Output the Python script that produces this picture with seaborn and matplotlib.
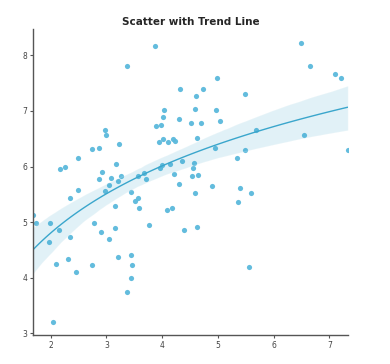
import matplotlib
matplotlib.use("Agg")
import matplotlib.pyplot as plt
import seaborn as sns
import pandas as pd

# values
x_vals = [1.68, 1.73, 1.98, 1.97, 2.15, 2.05, 2.10, 2.17, 2.26, 2.34,
          2.34, 2.32, 2.46, 2.50, 2.50, 2.74, 2.74, 2.78, 2.87, 2.86,
          2.90, 2.93, 2.98, 2.99, 2.98, 3.05, 3.04, 3.08, 3.15, 3.16,
          3.18, 3.20, 3.21, 3.23, 3.27, 3.37, 3.37, 3.44, 3.45, 3.46,
          3.44, 3.52, 3.57, 3.56, 3.59, 3.68, 3.71, 3.77, 3.87, 3.89,
          3.98, 3.95, 4.02, 4.03, 4.02, 3.96, 3.99, 4.11, 4.09, 4.17,
          4.15, 4.19, 4.23, 4.22, 4.30, 4.33, 4.31, 4.35, 4.40, 4.51,
          4.53, 4.56, 4.57, 4.59, 4.59, 4.60, 4.62, 4.65, 4.63, 4.69,
          4.74, 4.90, 4.96, 4.95, 4.99, 5.04, 5.35, 5.39, 5.37, 5.48,
          5.49, 5.56, 5.60, 5.68, 6.49, 6.54, 6.66, 7.11, 7.21, 7.33]
y_vals = [5.12, 4.99, 4.98, 4.65, 4.86, 3.21, 4.24, 5.95, 5.99, 5.44,
          4.74, 4.34, 4.10, 5.58, 6.16, 6.31, 4.22, 4.99, 6.33, 5.78,
          4.83, 5.90, 6.65, 6.57, 5.56, 5.67, 4.69, 5.79, 5.29, 4.89,
          6.05, 5.74, 4.37, 6.41, 5.83, 7.80, 3.75, 5.55, 4.41, 4.23,
          4.00, 5.38, 5.44, 5.83, 5.26, 5.88, 5.77, 4.94, 8.16, 6.73,
          6.75, 6.44, 6.90, 7.02, 6.50, 5.98, 6.02, 6.44, 5.21, 5.25,
          6.05, 6.49, 6.46, 5.87, 6.86, 7.39, 5.68, 6.10, 4.86, 6.78,
          5.83, 5.98, 6.07, 5.53, 7.04, 7.26, 6.52, 5.84, 4.91, 6.79,
          7.39, 5.65, 7.01, 6.34, 7.60, 6.82, 6.16, 5.61, 5.37, 7.31,
          6.29, 4.20, 5.52, 6.66, 8.22, 6.57, 7.81, 7.67, 7.60, 6.30]
x_ticks = [2, 3, 4, 5, 6, 7]
y_ticks = [3, 4, 5, 6, 7, 8]

df = pd.DataFrame({"x": x_vals, "y": y_vals})

sns.set_style("ticks")
fig = plt.figure(figsize=(3.9, 3.64), dpi=100)
ax = fig.add_axes([0.0855, 0.0797, 0.806, 0.84])

sns.regplot(data=df, x="x", y="y", logx=True, ax=ax, color="#5bb9dc",
            scatter_kws={"s": 14, "alpha": 0.95, "linewidths": 0},
            line_kws={"color": "#3aa6cc", "lw": 1.0}, truncate=True)
sns.despine(ax=ax)

ax.set_xlim(1.69, 7.33)
ax.set_ylim(2.97, 8.47)
ax.set_xticks(x_ticks)
ax.set_yticks(y_ticks)
ax.set_xlabel("")
ax.set_ylabel("")
ax.tick_params(labelsize=5.5, length=2.5, width=0.8, colors="#555555",
               labelcolor="#444444", pad=2)
for s in ["left", "bottom"]:
    ax.spines[s].set_color("#555555")
    ax.spines[s].set_linewidth(1.0)

ax.set_title("Scatter with Trend Line", fontsize=7.5, fontweight="bold", pad=3)

fig.savefig("out.png", dpi=100)
